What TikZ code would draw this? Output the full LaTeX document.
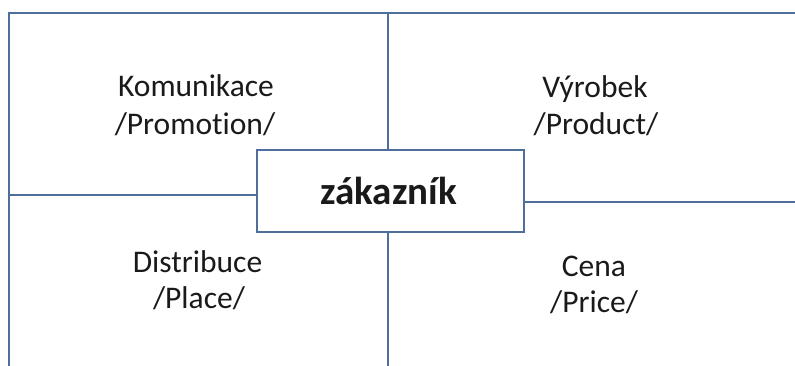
\documentclass[tikz,border=0pt]{standalone}
\usepackage{fontspec}
\setmainfont[Ligatures={NoCommon}]{Carlito}
\definecolor{linec}{HTML}{4F6E9C}
\definecolor{txt}{HTML}{1A1A1A}
\begin{document}
\begin{tikzpicture}[x=1pt,y=-1pt,
  frame/.style={draw=linec,line width=2.6pt},
  lbl/.style={text=txt,font=\fontsize{31.5}{38}\selectfont,anchor=base,inner sep=0pt},
  centerbox/.style={draw=linec,line width=2.6pt,fill=white,minimum width=267pt,minimum height=82pt,inner sep=0pt},
  boldlbl/.style={text=txt,font=\fontsize{39}{46}\selectfont\bfseries,anchor=base,inner sep=0pt}]
\useasboundingbox (0,0) rectangle (795,365);
% frame corner points
\coordinate (tl) at (9,13);
\coordinate (tr) at (796,13);
\coordinate (bl) at (9,366);
\coordinate (vtop) at (388,13);
\coordinate (vbot) at (388,366);
\coordinate (hl) at (9,195);
\coordinate (hr) at (796,202);
% centre box
\node[centerbox] (box) at (390.5,191) {};
\node[boldlbl] (zak) at (388.5,204) {zákazník};
% lines
\draw[frame] (bl) -- (tl) -- (tr);
\draw[frame] (vtop) -- (vtop |- box.north);
\draw[frame] (vbot |- box.south) -- (vbot);
\draw[frame] (hl) -- (hl -| box.west);
\draw[frame] (hr -| box.east) -- (hr);
% labels
\node[lbl] (k1) at (196,96) {Komunikace};
\node[lbl] (k2) at (195,134) {/Promotion/};
\node[lbl] (v1) at (595,97) {Výrobek};
\node[lbl] (v2) at (596,134) {/Product/};
\node[lbl] (d1) at (197.5,272) {Distribuce};
\node[lbl] (d2) at (199,308) {/Place/};
\node[lbl] (c1) at (594,276) {Cena};
\node[lbl] (c2) at (594,312) {/Price/};
\end{tikzpicture}
\end{document}
